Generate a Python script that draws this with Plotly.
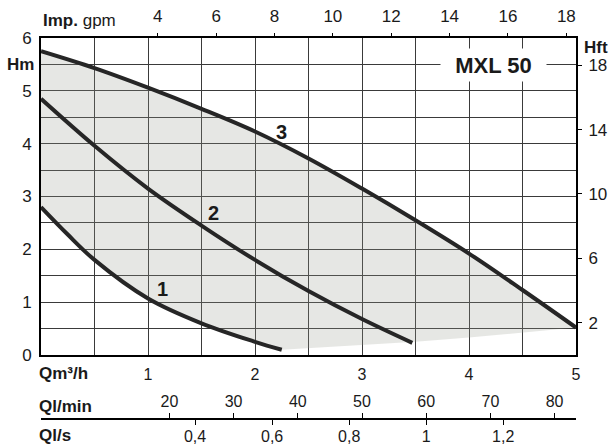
import plotly.graph_objects as go

# ---- data ----
curve1_q = [0.0, 0.25, 0.5, 1.0, 1.5, 2.0, 2.25]
curve1_h = [2.80, 2.28, 1.80, 1.07, 0.60, 0.25, 0.10]

curve2_q = [0.0, 0.5, 1.0, 1.5, 2.0, 2.5, 3.0, 3.47]
curve2_h = [4.85, 3.96, 3.15, 2.45, 1.80, 1.21, 0.68, 0.23]

curve3_q = [0.0, 0.5, 1.0, 1.5, 2.0, 2.5, 3.0, 3.5, 4.0, 4.5, 5.0]
curve3_h = [5.75, 5.43, 5.06, 4.66, 4.23, 3.72, 3.15, 2.55, 1.92, 1.23, 0.52]

# lower edge of the shaded field, from end of curve 1 to end of curve 3
field_bottom_q = [2.25, 3.0, 3.5, 4.0, 4.5, 5.0]
field_bottom_h = [0.10, 0.19, 0.25, 0.33, 0.42, 0.52]

curve_labels = ["1", "2", "3"]
curve_label_q = [1.14, 1.61, 2.25]
curve_label_h = [1.25, 2.69, 4.22]

q_ticks = [1, 2, 3, 4, 5]
h_ticks = [0, 1, 2, 3, 4, 5, 6]
gpm_ticks = [4, 6, 8, 10, 12, 14, 16, 18]
hft_ticks = [2, 6, 10, 14, 18]
lmin_ticks = [20, 30, 40, 50, 60, 70, 80]
ls_ticks = [0.4, 0.6, 0.8, 1.0, 1.2]
ls_text = ["0,4", "0,6", "0,8", "1", "1,2"]

Q_MAX = 5.0
H_MAX = 6.0
GPM_PER_M3H = 3.6662
FT_PER_M = 3.2808
LMIN_PER_M3H = 16.6667
LS_PER_M3H = 1 / 3.6

FONT = "Liberation Sans, Arial, sans-serif"
GRID = "#3a3a3a"
LINE = "#262626"
FILL = "rgba(150,156,142,0.24)"

fig = go.Figure()

# shaded field (semi-transparent so the grid shows through)
poly_q = curve3_q + field_bottom_q[::-1] + curve1_q[::-1]
poly_h = curve3_h + field_bottom_h[::-1] + curve1_h[::-1]
fig.add_trace(go.Scatter(x=poly_q, y=poly_h, fill="toself", fillcolor=FILL,
                         line=dict(width=0, color="rgba(0,0,0,0)"), mode="lines",
                         hoverinfo="skip", showlegend=False))

for q, h in [(curve1_q, curve1_h), (curve2_q, curve2_h), (curve3_q, curve3_h)]:
    fig.add_trace(go.Scatter(x=q, y=h, mode="lines",
                             line=dict(color=LINE, width=4, shape="spline", smoothing=1.0),
                             showlegend=False))

# invisible carriers so the secondary (unit-conversion) axes get drawn
conv_x = {"x2": Q_MAX * GPM_PER_M3H, "x3": Q_MAX * LMIN_PER_M3H, "x4": Q_MAX * LS_PER_M3H}
for ax, mx in conv_x.items():
    fig.add_trace(go.Scatter(x=[0, mx], y=[0, 0], xaxis=ax, yaxis="y", mode="lines",
                             line=dict(width=0), opacity=0, hoverinfo="skip", showlegend=False))
fig.add_trace(go.Scatter(x=[0, 0], y=[0, H_MAX * FT_PER_M], xaxis="x", yaxis="y2", mode="lines",
                         line=dict(width=0), opacity=0, hoverinfo="skip", showlegend=False))

for t, q, h in zip(curve_labels, curve_label_q, curve_label_h):
    fig.add_annotation(x=q, y=h, text=f"<b>{t}</b>", showarrow=False,
                       font=dict(size=20, color="#1a1a1a", family=FONT))

fig.add_annotation(x=4.23, y=5.49, text="<b>MXL 50</b>", showarrow=False,
                   bgcolor="white", width=103, height=30,
                   font=dict(size=22, color="#1a1a1a", family=FONT))

plot_bottom_px = 355
paper_bottom_px = 425
paper_h = 445 - 38 - 20
dom0 = (paper_bottom_px - plot_bottom_px) / paper_h
line_pos = (paper_bottom_px - 419) / paper_h

tickfont = dict(size=17, color="#1a1a1a", family=FONT)
botfont = dict(size=16, color="#1a1a1a", family=FONT)
qlfont = dict(size=16, color="#1a1a1a", family=FONT)

fig.update_layout(
    width=612, height=445,
    margin=dict(l=41, r=36, t=38, b=20, autoexpand=False),
    paper_bgcolor="white", plot_bgcolor="white",
    showlegend=False,
    xaxis=dict(range=[0, Q_MAX], tickvals=q_ticks, showgrid=True, gridcolor=GRID, gridwidth=1,
               minor=dict(dtick=0.5, tick0=0, showgrid=True, gridcolor=GRID, gridwidth=1),
               showline=True, linecolor="black", linewidth=2, mirror=True, automargin=False,
               ticks="", tickfont=botfont, ticklabelstandoff=4, zeroline=False),
    yaxis=dict(range=[0, H_MAX], tickvals=h_ticks, domain=[dom0, 1], showgrid=True,
               gridcolor=GRID, gridwidth=1, automargin=False,
               minor=dict(dtick=0.5, tick0=0, showgrid=True, gridcolor=GRID, gridwidth=1),
               showline=True, linecolor="black", linewidth=2, mirror=True,
               ticks="", tickfont=tickfont, ticklabelstandoff=4, zeroline=False),
    xaxis2=dict(range=[0, Q_MAX * GPM_PER_M3H], overlaying="x", side="top", anchor="y",
                tickvals=gpm_ticks, ticks="outside", ticklen=4, tickcolor="black",
                automargin=False,
                showgrid=False, zeroline=False, tickfont=tickfont, ticklabelstandoff=4),
    yaxis2=dict(range=[0, H_MAX * FT_PER_M], overlaying="y", side="right", anchor="x",
                tickvals=hft_ticks, ticks="outside", ticklen=5, tickcolor="black",
                automargin=False,
                showgrid=False, zeroline=False, tickfont=tickfont, ticklabelstandoff=3),
    xaxis3=dict(range=[0, Q_MAX * LMIN_PER_M3H], overlaying="x", anchor="free",
                position=line_pos, side="top", tickvals=lmin_ticks, ticks="outside",
                ticklen=5, tickcolor="black", showline=True, linecolor="black",
                linewidth=1.5, showgrid=False, zeroline=False, tickfont=qlfont,
                ticklabelstandoff=0, automargin=False),
    xaxis4=dict(range=[0, Q_MAX * LS_PER_M3H], overlaying="x", anchor="free",
                position=line_pos, side="bottom", tickmode="array", tickvals=ls_ticks,
                ticktext=ls_text,
                ticks="outside", ticklen=5, tickcolor="black", showline=False,
                showgrid=False, zeroline=False, tickfont=qlfont, ticklabelstandoff=-2,
                automargin=False),
)

# axis captions
labfont = dict(size=17, color="#1a1a1a", family=FONT)
fig.add_annotation(xref="paper", yref="paper", x=0, y=1, xanchor="left", yanchor="middle",
                   yshift=18, text="<b>Imp.</b> gpm", showarrow=False, font=labfont)
fig.add_annotation(xref="paper", yref="y", x=0, y=5.5, xanchor="right", yanchor="middle",
                   xshift=-5, text="<b>Hm</b>", showarrow=False, font=labfont)
fig.add_annotation(xref="paper", yref="paper", x=1, y=1, xanchor="left", yanchor="middle",
                   xshift=6, yshift=-9, text="<b>Hft</b>", showarrow=False, font=labfont)
fig.add_annotation(xref="paper", yref="paper", x=0, y=dom0, xanchor="left", yanchor="middle",
                   xshift=-4, yshift=-18, text="<b>Qm³/h</b>", showarrow=False, font=labfont)
fig.add_annotation(xref="paper", yref="paper", x=0, y=line_pos, xanchor="left", yanchor="middle",
                   xshift=-4, yshift=13, text="<b>Ql/min</b>", showarrow=False, font=labfont)
fig.add_annotation(xref="paper", yref="paper", x=0, y=line_pos, xanchor="left", yanchor="middle",
                   xshift=-4, yshift=-16, text="<b>Ql/s</b>", showarrow=False, font=labfont)

fig.write_html("out.html", config={"displayModeBar": False},
               post_script="document.body.style.margin='0';")
